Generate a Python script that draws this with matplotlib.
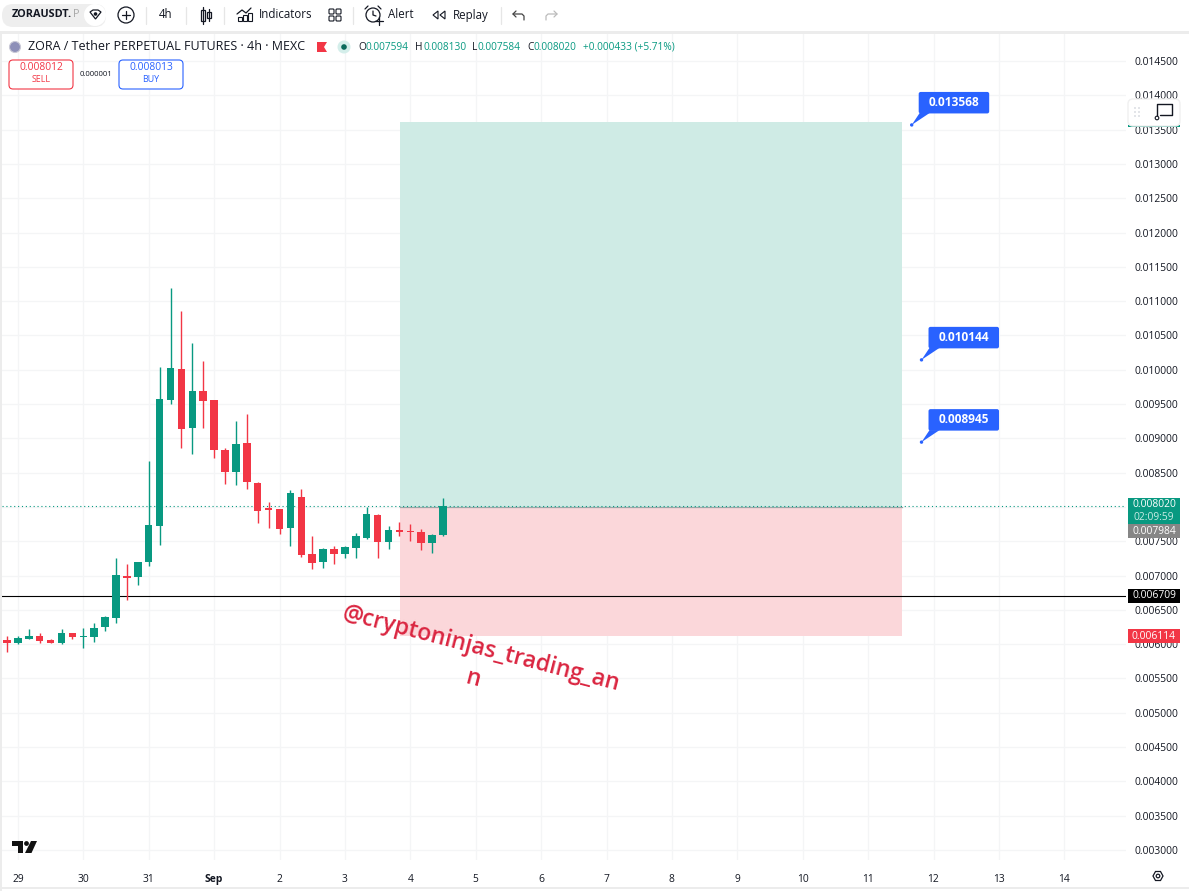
import matplotlib
matplotlib.use("Agg")
import matplotlib.pyplot as plt
from matplotlib.patches import Rectangle, FancyBboxPatch, Circle, Polygon

plt.rcParams['font.family'] = ['Open Sans', 'DejaVu Sans']

W, H = 1189, 891

# candles, 4h bars (x 1e-6)
opens = [6061, 6013, 6080, 6119, 6057, 6013, 6159, 6101, 6101, 6246, 6382, 6994, 6979, 7193,
         7718, 9563, 10006, 9155, 9690, 9559, 8826, 8505, 8928, 8350, 7970, 7970, 7693, 8150,
         7314, 7193, 7387, 7314, 7402, 7548, 7885, 7485, 7664, 7640, 7640, 7470, 7594]
highs = [6124, 6124, 6217, 6167, 6080, 6217, 6167, 6232, 6313, 6411, 7252, 7169, 7202, 8670,
         10044, 11187, 10861, 10385, 10132, 9559, 8855, 9257, 9355, 8360, 8068, 7975, 8247, 8262,
         7577, 7406, 7431, 7431, 7616, 8004, 7893, 7723, 7777, 7752, 7679, 7602, 8130]
lows = [5891, 6005, 6075, 6022, 6013, 6008, 6071, 5949, 6028, 6197, 6304, 6644, 6863, 7144,
        7446, 9501, 8864, 8772, 9155, 8709, 8335, 8320, 8262, 7762, 7693, 7606, 7431, 7266,
        7096, 7115, 7169, 7261, 7261, 7540, 7252, 7387, 7577, 7504, 7373, 7325, 7584]
closes = [6022, 6086, 6115, 6051, 6017, 6159, 6101, 6109, 6240, 6392, 7008, 6960, 7195, 7737,
          9574, 10021, 9141, 9690, 9549, 8835, 8514, 8918, 8360, 7946, 7960, 7679, 8199, 7304,
          7183, 7387, 7314, 7421, 7577, 7893, 7485, 7664, 7631, 7631, 7470, 7592, 8020]

day_labels = ['29', '30', '31', 'Sep', '2', '3', '4', '5', '6', '7', '8', '9', '10', '11', '12', '13', '14']
day_positions = [1, 7, 13, 19, 25, 31, 37, 43, 49, 55, 61, 67, 73, 79, 85, 91, 97]
price_ticks = [0.003, 0.0035, 0.004, 0.0045, 0.005, 0.0055, 0.006, 0.0065, 0.007, 0.0075, 0.008,
               0.0085, 0.009, 0.0095, 0.01, 0.0105, 0.011, 0.0115, 0.012, 0.0125, 0.013, 0.0135,
               0.014, 0.0145]
hidden_tick = 0.008  # sits behind the last price tag

last_price = 0.00802
entry_price = 0.0080
target_price = 0.01361
stop_price = 0.006114
black_line = 0.006709
box_start, box_end = 36.05, 82.1

callout_values = [0.013568, 0.010144, 0.008945]
callout_tips = [83.0, 83.9, 83.9]

GREEN = '#089981'
RED = '#F23645'
BLUE = '#2962FF'
TEXT = '#131722'

fig = plt.figure(figsize=(W / 100, H / 100), dpi=100, facecolor='white')

# main chart, placed by pixels
left, right, top, bottom = 2, 1126, 34, 860
ax = fig.add_axes([left / W, 1 - bottom / H, (right - left) / W, (bottom - top) / H])
ax.set_xlim((left - 7) / 10.9, (right - 7) / 10.9)
ax.set_ylim(0.015389 - 1.4575e-5 * bottom, 0.015389 - 1.4575e-5 * top)
for s in ax.spines.values():
    s.set_visible(False)

ax.set_yticks(price_ticks)
ax.set_yticklabels(["" if p == hidden_tick else f"{p:.6f}" for p in price_ticks], fontsize=7.4, color=TEXT)
ax.yaxis.tick_right()
ax.set_xticks(day_positions)
ax.set_xticklabels(day_labels, fontsize=7.4, color=TEXT)
ax.get_xticklabels()[3].set_fontweight('bold')
ax.tick_params(axis='both', length=0)
ax.tick_params(axis='y', pad=6)
ax.tick_params(axis='x', pad=10)
ax.grid(True, color='#f4f5f6', linewidth=0.9)
ax.set_axisbelow(True)

# position box
ax.add_patch(Rectangle((box_start, entry_price), box_end - box_start, target_price - entry_price,
                       facecolor='#CFEBE5', edgecolor='none', zorder=1))
ax.add_patch(Rectangle((box_start, stop_price), box_end - box_start, entry_price - stop_price,
                       facecolor='#FBD7DA', edgecolor='none', zorder=1))
ax.plot([box_start, box_end], [entry_price, entry_price], color='#9aa5a6', lw=0.9, zorder=1.5)

ax.axhline(black_line, color='black', lw=0.8, zorder=2)
ax.axhline(last_price, color=GREEN, lw=0.8, ls=(0, (1, 2.5)), zorder=2)

for i in range(len(opens)):
    col = GREEN if closes[i] >= opens[i] else RED
    ax.vlines(i, lows[i] * 1e-6, highs[i] * 1e-6, color=col, lw=1.0, zorder=3)
    b = min(opens[i], closes[i]) * 1e-6
    h = max(abs(closes[i] - opens[i]) * 1e-6, 0.00002)
    ax.bar(i, h, bottom=b, width=0.68, color=col, linewidth=0, zorder=4)

# ui layer in pixel coordinates
ui = fig.add_axes([0, 0, 1, 1], facecolor='none')
ui.set_xlim(0, W)
ui.set_ylim(H, 0)
ui.axis('off')


def price_y(p):
    return H - ax.transData.transform((0, p))[1]


def idx_x(i):
    return ax.transData.transform((i, 0))[0]


def label(x, y, s, size=8, color=TEXT, ha='left', **kw):
    ui.text(x, y, s, fontsize=size, color=color, ha=ha, va='center', zorder=10, **kw)


def rbox(x0, y0, x1, y1, fc, ec='none', r=2, lw=1, z=5):
    ui.add_patch(FancyBboxPatch((x0 + r, y0 + r), x1 - x0 - 2 * r, y1 - y0 - 2 * r,
                                boxstyle=f"round,pad={r},rounding_size={r}",
                                fc=fc, ec=ec, lw=lw, zorder=z, mutation_aspect=1))


def stroke(xs, ys, color=TEXT, lw=0.9, z=6):
    ui.plot(xs, ys, color=color, lw=lw, zorder=z, solid_capstyle='round')


# frame bands
ui.add_patch(Rectangle((0, 0), W, 31, fc='white', ec='none', zorder=1))
ui.add_patch(Rectangle((0, 31), W, 3, fc='#ececec', ec='none', zorder=1))
ui.add_patch(Rectangle((0, 31), 2, H - 31, fc='#ececec', ec='none', zorder=1))
ui.add_patch(Rectangle((0, 887), W, 2, fc='#ececec', ec='none', zorder=1))

# toolbar
rbox(2, 4, 106, 27, '#eeeeee', r=11)
label(12, 14.5, 'ZORAUSDT.', size=7.8, fontweight='bold')
label(73.5, 14.5, 'P', size=7.8, color='#a8a8a8')
ui.add_patch(Circle((95, 15), 11, fc='white', ec='none', zorder=6))
ui.add_patch(Polygon([[90, 12], [93, 10], [98, 10], [101, 12], [95.5, 19]], fc='white', ec=TEXT, lw=0.9, zorder=7))
ui.add_patch(Circle((95.5, 14), 1.8, fc=TEXT, ec='none', zorder=8))
ui.add_patch(Circle((126, 15), 8, fc='white', ec=TEXT, lw=0.9, zorder=6))
stroke([122, 130], [15, 15])
stroke([126, 126], [11, 19])
for x in [146, 186, 224, 353, 501]:
    stroke([x, x], [7, 24], color='#e6e6e6')
label(166, 15, '4h', size=8.3, ha='center')
# candle icon
ui.add_patch(Rectangle((201, 10), 4, 11, fc='white', ec=TEXT, lw=0.9, zorder=6))
ui.add_patch(Rectangle((207, 12), 4, 6, fc='white', ec=TEXT, lw=0.9, zorder=6))
stroke([203, 203], [7, 24])
stroke([209, 209], [9, 21])
# indicators icon
stroke([237, 242, 246, 251], [14, 10, 13, 8])
for bx, bt in [(238, 17), (243, 15), (248, 13)]:
    ui.add_patch(Rectangle((bx, bt), 4, 21 - bt, fc='white', ec=TEXT, lw=0.8, zorder=6))
label(259, 15, 'Indicators', size=8.3)
# layouts icon
for bx in [329, 336]:
    for by in [9, 16]:
        rbox(bx, by, bx + 5, by + 5, 'white', ec=TEXT, r=1, lw=0.8, z=6)
# alert icon
ui.add_patch(Circle((373, 15), 7, fc='white', ec=TEXT, lw=0.9, zorder=6))
stroke([373, 373, 376], [11, 15, 16])
stroke([365, 368], [9, 6])
stroke([378, 381], [6, 9])
stroke([375, 383], [21, 21])
stroke([379, 379], [17, 25])
label(388, 15, 'Alert', size=8.3)
# replay icon
ui.add_patch(Polygon([[438, 11], [438, 19], [433, 15]], fc='white', ec=TEXT, lw=0.8, zorder=6))
ui.add_patch(Polygon([[445, 11], [445, 19], [440, 15]], fc='white', ec=TEXT, lw=0.8, zorder=6))
label(453, 15, 'Replay', size=8.3)
stroke([516, 513, 516], [11, 14, 17], color='#444444')
stroke([513, 522, 524, 524], [14, 14, 16, 20], color='#444444')
stroke([554, 557, 554], [11, 14, 17], color='#bbbbbb')
stroke([557, 548, 546, 546], [14, 14, 16, 20], color='#bbbbbb')

# legend row
ui.add_patch(Circle((15, 47), 5.5, fc='#8d8fb8', ec='#c9c9d6', lw=0.8, zorder=6))
label(28, 47, 'ZORA / Tether PERPETUAL FUTURES · 4h · MEXC', size=9.0)
ui.add_patch(Polygon([[317, 42], [327, 42], [324, 47], [327, 52], [317, 52]], fc=RED, ec='none', zorder=6))
ui.add_patch(Circle((344, 47), 6.5, fc='#d4eeea', ec='none', zorder=6))
ui.add_patch(Circle((344, 47), 2.8, fc='#0b6b5c', ec='none', zorder=7))
for lx, ltr, vx, val in [(358, 'O', 366, '0.007594'), (415, 'H', 423, '0.008130'),
                         (472, 'L', 478, '0.007584'), (527, 'C', 534, '0.008020')]:
    label(lx, 47, ltr, size=7.3)
    label(vx, 47, val, size=7.3, color=GREEN)
label(583, 47, '+0.000433 (+5.71%)', size=7.3, color=GREEN)

# sell / buy
rbox(9, 60, 73, 89, 'white', ec=RED, r=4, lw=0.8)
label(41, 68, '0.008012', size=7.4, color=RED, ha='center')
label(41, 80, 'SELL', size=6.4, color=RED, ha='center')
label(96, 74, '0.000001', size=5.6, ha='center')
rbox(119, 60, 183, 89, 'white', ec=BLUE, r=4, lw=0.8)
label(151, 68, '0.008013', size=7.4, color=BLUE, ha='center')
label(151, 80, 'BUY', size=6.4, color=BLUE, ha='center')

# callouts
for val, tip in zip(callout_values, callout_tips):
    tx, ty = idx_x(tip), price_y(val)
    bx, by = tx + 7, ty - 33
    rbox(bx, by, bx + 70.5, by + 21.5, BLUE, r=2)
    ui.add_patch(Polygon([[bx + 1, by + 21], [bx + 11, by + 21], [tx, ty]], fc=BLUE, ec='none', zorder=5))
    ui.add_patch(Circle((tx, ty), 1.7, fc=BLUE, ec='none', zorder=5))
    label(bx + 35, by + 10.5, f"{val:.6f}", size=8.6, color='white', ha='center', fontweight='bold')

# price tags
y_last = price_y(last_price)
ui.add_patch(Rectangle((1128, y_last - 7.5), 52, 26, fc=GREEN, ec='none', zorder=5))
label(1154, y_last - 1, f"{last_price:.6f}", size=7.4, color='white', ha='center')
label(1154, y_last + 12, '02:09:59', size=7.4, color='#c8ebe4', ha='center')
ui.add_patch(Rectangle((1128, y_last + 18.5), 52, 14, fc='#868686', ec='none', zorder=5))
label(1154, y_last + 25.5, '0.007984', size=7.4, color='white', ha='center')
y_black = price_y(black_line)
ui.add_patch(Rectangle((1128, y_black - 7), 52, 14, fc='black', ec='none', zorder=5))
label(1154, y_black, f"{black_line:.6f}", size=7.4, color='white', ha='center')
y_stop = price_y(stop_price)
ui.add_patch(Rectangle((1128, y_stop - 7), 52, 14, fc=RED, ec='none', zorder=5))
label(1154, y_stop, f"{stop_price:.6f}", size=7.4, color='white', ha='center')

# floating comment widget over the scale
ui.add_patch(Rectangle((1128, 125), 52, 2, fc=GREEN, ec='none', zorder=7))
rbox(1128, 99, 1180, 126, 'white', ec='#f0f0f0', r=5, z=8)
for dx in [1135, 1139]:
    for dy in [108, 112, 116]:
        ui.add_patch(Circle((dx, dy), 0.8, fc='#c9ccd4', ec='none', zorder=9))
stroke([1157, 1157, 1172, 1172, 1160], [116, 104, 104, 115, 115], lw=1.0, z=9)
ui.add_patch(Circle((1157, 118), 1.8, fc='white', ec=TEXT, lw=0.8, zorder=9))

# watermark
wm = '#DA2540'
ui.text(346, 602, '@cryptoninjas_trading_an', fontsize=16.6, color=wm, rotation=-14.5,
        rotation_mode='anchor', ha='left', va='top', zorder=10, fontweight='semibold')
ui.text(473, 679, 'n', fontsize=16.6, color=wm, rotation=-14.5, rotation_mode='anchor',
        ha='center', va='center', zorder=10, fontweight='semibold')

# tradingview logo
ui.add_patch(Polygon([[12, 841], [23, 841], [23, 853], [17.5, 853], [17.5, 846], [12, 846]], fc='#111111', ec='none', zorder=6))
ui.add_patch(Circle((26.5, 843.5), 2.4, fc='#111111', ec='none', zorder=6))
ui.add_patch(Polygon([[31, 841], [37, 841], [31.5, 853], [25, 853]], fc='#111111', ec='none', zorder=6))

# settings icon
ui.add_patch(Polygon([[1153, 876], [1155.5, 871.5], [1160.5, 871.5], [1163, 876], [1160.5, 880.5], [1155.5, 880.5]],
                     fc='white', ec=TEXT, lw=0.9, zorder=6))
ui.add_patch(Circle((1158, 876), 1.8, fc='white', ec=TEXT, lw=0.9, zorder=7))

fig.savefig('out.png', dpi=100, facecolor='white')
